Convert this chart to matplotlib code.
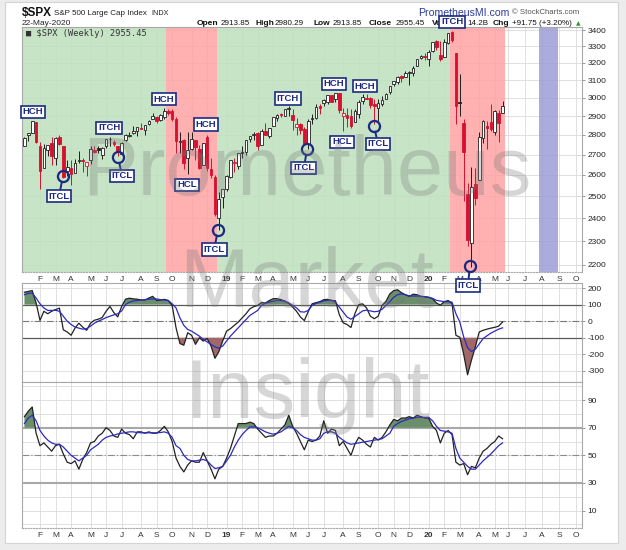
import numpy as np
import pandas as pd
import matplotlib
matplotlib.use("Agg")
import matplotlib.pyplot as plt
from matplotlib.patches import Rectangle
from matplotlib.ticker import FixedLocator, FixedFormatter, NullLocator

plt.rcParams['font.family'] = ['Liberation Sans', 'DejaVu Sans']

# ---------------- data ----------------
week_ending = pd.date_range("2018-01-12", "2020-05-22", freq="W-FRI")

opens = [2745, 2798, 2809, 2867, 2741, 2636, 2722, 2757, 2681, 2790,
         2741, 2619, 2633, 2611, 2670, 2675, 2642, 2675, 2722, 2735,
         2699, 2743, 2780, 2765, 2742, 2704, 2776, 2797, 2811, 2821,
         2838, 2827, 2859, 2884, 2896, 2880, 2896, 2927, 2926, 2882,
         2763, 2773, 2682, 2726, 2773, 2730, 2650, 2790, 2630, 2590,
         2400, 2498, 2535, 2588, 2657, 2644, 2713, 2712, 2780, 2798,
         2812, 2747, 2823, 2797, 2848, 2888, 2909, 2898, 2940, 2908,
         2840, 2856, 2830, 2751, 2886, 2887, 2952, 2971, 2979, 3017,
         2991, 3024, 2898, 2907, 2898, 2866, 2909, 2980, 3001, 2999,
         2967, 2944, 2966, 2996, 3035, 3078, 3089, 3123, 3117, 3143,
         3141, 3183, 3227, 3240, 3226, 3273, 3333, 3248, 3236, 3318,
         3388, 3257, 2974, 2864, 2509, 2290, 2558, 2578, 2782, 2846,
         2869, 2815, 2915, 2914]
highs = [2787, 2811, 2873, 2870, 2763, 2754, 2747, 2789, 2787, 2802,
         2741, 2672, 2672, 2680, 2717, 2683, 2665, 2742, 2743, 2742,
         2736, 2779, 2790, 2774, 2743, 2763, 2804, 2816, 2848, 2841,
         2863, 2853, 2877, 2916, 2900, 2912, 2941, 2940, 2939, 2894,
         2817, 2778, 2815, 2815, 2776, 2747, 2760, 2800, 2685, 2601,
         2520, 2534, 2598, 2675, 2681, 2708, 2744, 2776, 2795, 2813,
         2816, 2830, 2861, 2836, 2893, 2911, 2918, 2940, 2954, 2938,
         2891, 2863, 2841, 2885, 2911, 2964, 2964, 2996, 3014, 3018,
         3028, 3028, 2944, 2944, 2939, 2940, 2985, 3021, 3022, 3002,
         2993, 2993, 3008, 3027, 3066, 3097, 3121, 3127, 3154, 3150,
         3182, 3226, 3247, 3258, 3275, 3330, 3338, 3333, 3348, 3385,
         3393, 3260, 3137, 2882, 2563, 2637, 2632, 2818, 2880, 2871,
         2965, 2934, 2934, 2980]
lows = [2742, 2768, 2808, 2759, 2533, 2635, 2692, 2647, 2647, 2746,
        2585, 2594, 2553, 2610, 2660, 2612, 2594, 2655, 2707, 2707,
        2676, 2735, 2743, 2743, 2691, 2698, 2770, 2790, 2805, 2795,
        2830, 2802, 2850, 2884, 2864, 2874, 2886, 2904, 2874, 2710,
        2710, 2628, 2603, 2722, 2671, 2631, 2649, 2621, 2583, 2409,
        2347, 2444, 2524, 2583, 2612, 2631, 2681, 2700, 2766, 2775,
        2722, 2746, 2800, 2786, 2848, 2873, 2896, 2898, 2900, 2826,
        2801, 2805, 2750, 2728, 2856, 2883, 2912, 2953, 2967, 2975,
        2976, 2914, 2822, 2840, 2834, 2866, 2891, 2964, 2993, 2946,
        2856, 2873, 2952, 2991, 3023, 3066, 3078, 3091, 3117, 3070,
        3124, 3183, 3224, 3215, 3181, 3264, 3280, 3214, 3236, 3316,
        3328, 2855, 2901, 2478, 2280, 2192, 2459, 2574, 2761, 2727,
        2822, 2798, 2766, 2914]
closes = [2786, 2810, 2873, 2762, 2620, 2732, 2747, 2691, 2786, 2752,
          2588, 2640, 2604, 2656, 2670, 2669, 2663, 2728, 2713, 2721,
          2735, 2779, 2780, 2755, 2718, 2760, 2801, 2802, 2819, 2840,
          2833, 2850, 2874, 2902, 2872, 2905, 2930, 2914, 2886, 2767,
          2768, 2659, 2723, 2781, 2736, 2633, 2760, 2633, 2600, 2417,
          2486, 2532, 2596, 2671, 2665, 2707, 2708, 2776, 2793, 2804,
          2743, 2822, 2800, 2834, 2893, 2907, 2905, 2940, 2946, 2881,
          2860, 2826, 2752, 2873, 2887, 2950, 2942, 2990, 3014, 2977,
          3026, 2932, 2919, 2889, 2847, 2926, 2979, 3007, 2992, 2962,
          2952, 2970, 2986, 3023, 3066, 3093, 3120, 3110, 3141, 3146,
          3169, 3221, 3240, 3235, 3265, 3330, 3295, 3226, 3328, 3380,
          3338, 2954, 2972, 2711, 2305, 2541, 2489, 2790, 2875, 2837,
          2831, 2930, 2864, 2955]

cci = [175, 180, 185, 110, 5, 60, 45, 60, 70, 79,
       -52, -65, -85, -42, -12, -36, -55, -12, 6, 12,
       22, 60, 89, 52, 26, 89, 133, 139, 135, 133,
       128, 128, 140, 150, 125, 128, 132, 125, 95, -40,
       -135, -145, -70, -85, -140, -100, -120, -105, -150, -224,
       -185, -120, -60, -45, -25, -5, 20, 45, 75, 88,
       95, 113, 110, 125, 136, 136, 130, 122, 108, 85,
       60, 25, 4, 58, 105, 112, 118, 130, 132, 125,
       124, 40, -10, -20, -38, 45, 100, 105, 80, 30,
       15, 30, 95, 120, 165, 185, 190, 172, 160, 150,
       163, 160, 150, 148, 145, 135, 110, 97, 118, 125,
       107, -85, -97, -200, -324, -235, -155, -65, -55, -48,
       -42, -37, -30, -5]
cci_avg = [160, 168, 170, 140, 105, 80, 65, 65, 66, 60,
           30, 0, -20, -35, -42, -48, -45, -30, -12, 0,
           10, 22, 30, 38, 45, 62, 100, 115, 122, 125,
           127, 130, 133, 135, 135, 130, 128, 125, 105, 80,
           20, -25, -50, -60, -75, -90, -110, -125, -140, -155,
           -163, -150, -120, -90, -65, -40, -15, 10, 35, 50,
           65, 95, 108, 115, 120, 125, 125, 120, 110, 95,
           80, 57, 55, 65, 95, 107, 115, 123, 126, 127,
           115, 85, 55, 25, 12, 28, 45, 62, 67, 62,
           57, 60, 72, 95, 118, 145, 160, 165, 160, 153,
           152, 152, 150, 148, 143, 138, 126, 122, 118, 118,
           115, 45, -5, -95, -160, -183, -170, -137, -105, -88,
           -72, -60, -48, -40]
rsi = [78, 82, 85, 66, 57, 59, 56, 53, 57, 58,
       51, 45, 44, 46, 40, 47, 52, 59, 60, 64,
       66, 70, 68, 64, 63, 69, 66, 65, 62, 67,
       67, 66, 67, 66, 66, 68, 71, 67, 60, 48,
       42, 38, 43, 46, 45, 45, 52, 46, 40, 33,
       40, 42, 48, 55, 64, 73, 73, 73, 74, 73,
       69, 66, 63, 64, 64, 66, 69, 72, 79, 71,
       66, 60, 54, 61, 60, 61, 64, 75, 66, 69,
       68, 57, 60, 55, 50, 58, 63, 61, 58, 56,
       63, 61, 63, 67, 72, 76, 75, 77, 77, 78,
       77, 79, 78, 77, 77, 71, 68, 59, 66, 68,
       65, 45, 43, 44, 36, 42, 41, 48, 53, 55,
       58, 60, 64, 62]
rsi_avg = [73, 77, 79, 75, 68, 64, 61, 59, 58, 58,
           56, 53, 50, 48, 46, 48, 50, 54, 56, 58,
           61, 63, 64, 64.5, 65.5, 66, 66.5, 67, 67, 66.5,
           66.3, 66.3, 66.3, 66.3, 66.3, 66.5, 67, 66, 63, 57,
           55, 50, 47, 46, 46, 46.5, 47, 46, 43, 40.5,
           41, 42, 46, 50, 56, 61, 65, 68, 70.5, 70.6,
           70, 68.5, 67, 66, 65.3, 66, 67, 69, 71, 70,
           68, 65, 63, 62, 61, 61, 62, 66, 67, 67,
           66, 63, 61, 59, 58, 58.5, 59, 59.5, 60, 60.5,
           61, 61.5, 62, 64, 66, 71, 73, 74.5, 75.5, 76.5,
           77, 77.5, 77.5, 77.5, 77.5, 75, 71, 68, 67.5, 67,
           66, 55, 48, 45, 42, 40, 40, 43, 46, 48.5,
           51, 54, 57, 59]

price_ticks = [2200, 2300, 2400, 2500, 2600, 2700, 2800, 2900, 3000, 3100, 3200, 3300, 3400]
cci_ticks = [200, 100, 0, -100, -200, -300]
rsi_ticks = [90, 70, 50, 30, 10]
month_letters = ['J', 'F', 'M', 'A', 'M', 'J', 'J', 'A', 'S', 'O', 'N', 'D']

phases = [("2018-01-12", "2018-09-21", "bull"),
          ("2018-09-28", "2018-12-21", "bear"),
          ("2018-12-28", "2020-02-14", "bull"),
          ("2020-02-21", "2020-05-22", "bear")]
cycle_window = ("2020-07-27", "2020-08-30")

# boxed notes: (text, bar position, price)
boxed_notes = [("HCH", 2.2, 2922), ("ITCH", 21.8, 2837), ("HCH", 35.9, 2993),
               ("HCL", 41.8, 2552), ("HCH", 46.7, 2853), ("ITCH", 67.8, 2998),
               ("HCH", 79.6, 3078), ("HCL", 81.7, 2764), ("HCH", 87.6, 3066),
               ("ITCH", 110.0, 3453)]
# circled lows: (circle bar, circle price, label bar, label price)
circled_lows = [(9.9, 2594, 8.9, 2500), (24.1, 2688, 25.1, 2595),
                (49.8, 2349, 48.8, 2265), (72.7, 2728, 71.9, 2634),
                (89.9, 2848, 90.96, 2754), (114.6, 2196, 114.1, 2119)]

# ---------------- figure ----------------
W, H = 626, 550
fig = plt.figure(figsize=(W / 100, H / 100), dpi=100)
fig.patch.set_facecolor('#ececec')
fig.add_artist(Rectangle((5 / W, 1 - 543 / H), 613 / W, 541 / H, transform=fig.transFigure,
                         facecolor='white', edgecolor='#d4d4d4', lw=0.8, zorder=-10))


def px_axes(left, top, right, bottom):
    return fig.add_axes([left / W, 1 - bottom / H, (right - left) / W, (bottom - top) / H])


ax_p = px_axes(22, 27.3, 581.7, 272)
ax_c = px_axes(22, 283.3, 581.7, 381.7)
ax_r = px_axes(22, 381.7, 581.7, 528)
ax_p.set_zorder(4)

n = len(closes)
x = np.arange(n)
last = week_ending[-1]


def date_x(d):
    return (n - 1) + (pd.Timestamp(d) - last).days / 7.0


# month ticks
mondays = week_ending - pd.Timedelta(days=4)
tick_pos, tick_lab, tick_bold = [], [], []
for i in range(1, n):
    if mondays[i].month != mondays[i - 1].month:
        tick_pos.append(i)
        m = mondays[i].month
        tick_lab.append(str(mondays[i].year)[2:] if m == 1 else month_letters[m - 1])
        tick_bold.append(m == 1)
for d in pd.date_range(last + pd.Timedelta(days=1), "2020-10-31", freq="MS"):
    tick_pos.append(date_x(d))
    tick_lab.append(str(d.year)[2:] if d.month == 1 else month_letters[d.month - 1])
    tick_bold.append(d.month == 1)

XL = (-0.63, 143.36)
GRID = '#dadada'
SPINE = '#a8a8a8'

for ax in (ax_p, ax_c, ax_r):
    ax.set_xlim(*XL)
    ax.xaxis.set_major_locator(FixedLocator(tick_pos))
    ax.set_axisbelow(True)
    ax.grid(True, color=GRID, lw=0.6)
    for s in ax.spines.values():
        s.set_color(SPINE)
        s.set_linewidth(0.8)
    ax.yaxis.tick_right()
    ax.tick_params(axis='y', length=2, width=0.6, color='#888', pad=2, labelsize=6, labelcolor='#222')
    ax.tick_params(axis='x', length=0, pad=3, labelsize=6, labelcolor='#333')
    ax.yaxis.set_minor_locator(NullLocator())

for ax in (ax_p, ax_r):
    ax.spines['bottom'].set_linestyle((0, (1, 1.5)))
    ax.xaxis.set_major_formatter(FixedFormatter(tick_lab))
    for t, b in zip(ax.get_xticklabels(), tick_bold):
        if b:
            t.set_fontweight('bold')
ax_c.tick_params(axis='x', labelbottom=False)

# ---------------- price panel ----------------
ax_p.set_yscale('log')
ax_p.set_ylim(2171.6, 3419)
ax_p.yaxis.set_major_locator(FixedLocator(price_ticks))
ax_p.yaxis.set_major_formatter(FixedFormatter([str(v) for v in price_ticks]))
ax_p.yaxis.set_minor_locator(NullLocator())

phase_col = {"bull": '#bde0bd', "bear": '#ffa3a3'}
for a, b, kind in phases:
    i0 = week_ending.get_loc(pd.Timestamp(a))
    i1 = week_ending.get_loc(pd.Timestamp(b))
    lo = XL[0] if i0 == 0 else i0 - 0.5
    ax_p.axvspan(lo, i1 + 0.5, color=phase_col[kind], alpha=0.85, lw=0, zorder=1)
ax_p.axvspan(date_x(cycle_window[0]), date_x(cycle_window[1]), color='#9d9ed6', alpha=0.85, lw=0, zorder=1)

o, h, l, c = map(np.array, (opens, highs, lows, closes))
prev = np.r_[o[0], c[:-1]]
RED = '#d6102e'
BLK = '#1e1e1e'
edge = np.where(c < prev, RED, BLK)
face = np.where(c >= o, 'white', edge)
ax_p.vlines(x, l, h, colors=edge, lw=0.7, zorder=3)
ax_p.bar(x, np.maximum(np.abs(c - o), 1.5), bottom=np.minimum(o, c), width=0.68,
         color=list(face), edgecolor=list(edge), linewidth=0.6, zorder=4)

NAVY = '#1b2a80'
box = dict(boxstyle='square,pad=0.2', fc='white', ec=NAVY, lw=1.2)
for txt, bx, by in boxed_notes:
    ax_p.text(bx, by, txt, ha='center', va='center', fontsize=6.8, fontweight='bold',
              color=NAVY, bbox=box, zorder=8, clip_on=False)
for cx, cy, lx, ly in circled_lows:
    ax_p.plot([cx], [cy], marker='o', ms=8, mfc='none', mec=NAVY, mew=1.6, zorder=7, clip_on=False)
    ax_p.annotate("ITCL", xy=(cx, cy), xytext=(lx, ly), ha='center', va='center', fontsize=6.8,
                  fontweight='bold', color=NAVY, bbox=box, zorder=8, annotation_clip=False,
                  arrowprops=dict(arrowstyle='-', color=NAVY, lw=1.4, shrinkA=0, shrinkB=4.2))

ax_p.text((26 - 22) / 559.7, (272 - 33) / 244.7, "\u25A0 \\$SPX (Weekly) 2955.45", transform=ax_p.transAxes,
          fontsize=6.2, family=['DejaVu Sans Mono'], color='#333', va='center', ha='left', zorder=9)

# ---------------- CCI panel ----------------
cv = np.array(cci, float)
ca = np.array(cci_avg, float)
ax_c.set_ylim(-365.6, 229)
ax_c.yaxis.set_major_locator(FixedLocator(cci_ticks))
ax_c.yaxis.set_major_formatter(FixedFormatter([str(v) for v in cci_ticks]))
ax_c.axhline(100, color='#5a5a5a', lw=0.9, zorder=2)
ax_c.axhline(-100, color='#5a5a5a', lw=0.9, zorder=2)
ax_c.axhline(0, color='#777', lw=0.8, ls=(0, (6, 2, 1, 2)), zorder=2)
ax_c.fill_between(x, 100, cv, where=cv >= 100, interpolate=True, color='#6a8f6a', lw=0, zorder=3)
ax_c.fill_between(x, -100, cv, where=cv <= -100, interpolate=True, color='#a06868', lw=0, zorder=3)
ax_c.plot(x, cv, color='#222', lw=0.9, zorder=4)
ax_c.plot(x, ca, color='#2b2bc0', lw=0.9, zorder=5)

# ---------------- RSI panel ----------------
rv = np.array(rsi, float)
ra = np.array(rsi_avg, float)
ax_r.set_ylim(-2.6, 103.3)
ax_r.yaxis.set_major_locator(FixedLocator(list(range(0, 101, 10))))
ax_r.yaxis.set_major_formatter(FixedFormatter(['' if v not in rsi_ticks else str(v) for v in range(0, 101, 10)]))
ax_r.axhline(70, color='#a8a8a8', lw=1.5, zorder=2)
ax_r.axhline(30, color='#a8a8a8', lw=1.5, zorder=2)
ax_r.axhline(50, color='#8a8a8a', lw=0.8, ls=(0, (6, 2, 1, 2)), zorder=2)
ax_r.fill_between(x, 70, rv, where=rv >= 70, interpolate=True, color='#6a8f6a', lw=0, zorder=3)
ax_r.plot(x, rv, color='#222', lw=0.9, zorder=4)
ax_r.plot(x, ra, color='#2b2bc0', lw=0.9, zorder=5)
for t, v in zip(ax_r.yaxis.get_major_ticks(), range(0, 101, 10)):
    if v not in rsi_ticks:
        t.tick2line.set_visible(False)

# ---------------- header ----------------
def ftext(px, py, s, **kw):
    kw.setdefault('va', 'center')
    kw.setdefault('ha', 'left')
    kw.setdefault('zorder', 3)
    fig.text(px / W, 1 - py / H, s, **kw)


ftext(22, 13, "\\$SPX", fontsize=8.5, fontweight='bold', color='#111')
ftext(54, 13.5, "S&P 500 Large Cap Index", fontsize=5.8, color='#222')
ftext(151, 13.5, "INDX", fontsize=5.2, color='#222')
ftext(22, 23.5, "22-May-2020", fontsize=6, color='#222')
ftext(418, 13, "PrometheusMI.com", fontsize=7.6, color='#2a3c9c')
ftext(512, 13, "\u00a9 StockCharts.com", fontsize=5.6, color='#555')
row = [(197, "Open", True), (221, "2913.85", False), (255, "High", True), (275, "2980.29", False),
       (313, "Low", True), (333, "2913.85", False), (369, "Close", True), (396, "2955.45", False),
       (432, "Vol", True), (467, "14.2B", False), (493, "Chg", True), (512, "+91.75 (+3.20%)", False)]
for px_, s, b in row:
    ftext(px_, 23.5, s, fontsize=6.0 if b else 5.8, fontweight='bold' if b else 'normal', color='#111')
ftext(576, 23.5, "\u25B2", fontsize=4.3, color='#2a9a2a', family=['DejaVu Sans'])

# ---------------- watermark ----------------
for s, base in (("Prometheus", 195), ("Market", 307), ("Insight", 418)):
    fig.text(307 / W, 1 - base / H, s, ha='center', va='baseline', fontsize=60,
             color='#7a7a7a', alpha=0.3, zorder=20)

fig.savefig("out.png", dpi=100, facecolor=fig.get_facecolor())
